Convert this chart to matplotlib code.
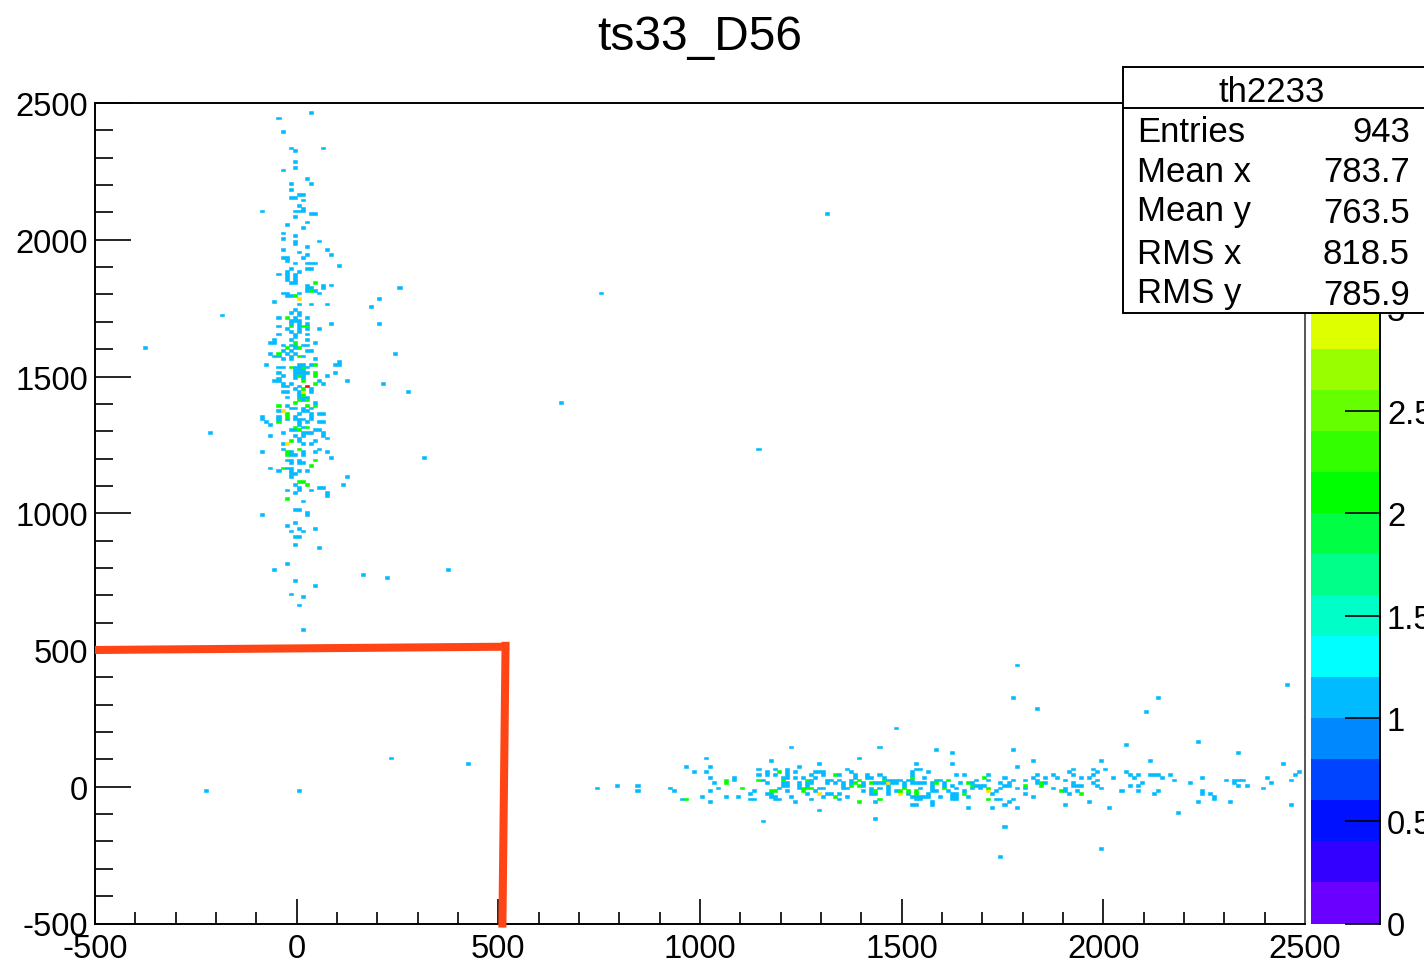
import numpy as np
import matplotlib
matplotlib.use("Agg")
import matplotlib.pyplot as plt
from matplotlib.colors import ListedColormap, BoundaryNorm
from matplotlib.patches import Rectangle
from matplotlib.lines import Line2D

plt.rcParams['font.family'] = ['Liberation Sans', 'DejaVu Sans']
plt.rcParams['axes.unicode_minus'] = False

TITLE = "ts33_D56"
STAT_NAME = "th2233"
STAT_LABELS = ["Entries", "Mean x", "Mean y", "RMS x", "RMS y"]
STAT_VALUES = ["943", "783.7", "763.5", "818.5", "785.9"]

# Lower bin edge (y) -> lower bin edges (x); bins are 10 wide.
upper_single = {
 2460:[30],2440:[-50],2390:[-40],2330:[-20,60],2320:[-10],2280:[-10],2260:[-10],2250:[-40],2220:[20],
 2200:[-20,30],2180:[-20],2160:[0,10],2150:[-20,-10],2140:[10],2120:[0],2110:[10],2100:[-90,-10,0,10],
 2090:[30,40,1310],2080:[-10],2060:[20],2050:[-30],2040:[10],2020:[-40],2010:[-10],2000:[-40],1990:[-10,50],
 1980:[-10],1970:[20],1960:[-40,70],1950:[0],1940:[20,80],1930:[-40,-30,10],1920:[-30],1910:[-10,20,30,40],
 1900:[100],1890:[-20,20,30],1880:[-30,0],1870:[-50,-30,-10],1860:[-30,-10],1850:[-30,-10],1840:[-20,-10],
 1830:[20,60,80],1820:[20,30,60,250],1810:[20,40],1800:[-40,-30,0,50,750],1790:[-30,-20],1780:[200],1770:[-60],
 1760:[0,30,70],1750:[180],1740:[-10],1730:[-20,0],1720:[-190,0],1710:[-50,-10,20],1700:[-20,-10,0],
 1690:[-20,0,20,80,200],1680:[-50,0],1670:[-30,0,20,50],1660:[-20,0],1650:[-50,-10,20],1640:[-10],
 1630:[-60,-20,20],1620:[-70,-60,40],1610:[-40,-20,-10,10,20],1600:[-380,-10],1590:[-40,-20,20,30],
 1580:[-70,-30,-10,240],1570:[-60,-50,-20,10],1560:[-40,-20,40],1550:[100],1540:[-80,0,10,30,90,100],
 1530:[-50,-40,-10,0,20],1520:[-10,0,10],1510:[-50,-10,0,10,20,90],1500:[-40,-10,10,70],1490:[-50,-10,10],
 1480:[-60,-50,50,120],1470:[-40,-20,60,210],1460:[-40,-30,0],1450:[-10,30],1440:[-40,-30,0,30,270],1430:[0],
 1420:[-30,0,10,20],1410:[10],1400:[40,650],1390:[-30],1380:[-20,-10,10,30],1370:[-50,10,20],1360:[0,30,50,60],
 1350:[-90,-50,-10,30],1340:[-90,-50,-30,-10,0,10,30],1330:[-80,0,20,50,60],1320:[-70,0],1310:[10],
 1300:[-20,-10,40,50],1290:[-220,-40,10,20,30,60],1280:[-70,-10,10,60],1270:[0,70],1260:[0,40],1250:[-40,10,30],
 1230:[-40,50,1140],1220:[-90,-20,10,40,70],1210:[-20,-10,10],1200:[80,310],1190:[-30,-20,0],1180:[-20,0,10],
 1160:[-70,-30,-20],1150:[-50,-20,0,20],1140:[-20,-10],1130:[-20,120],1100:[-10,110],1090:[0,50,60],
 1080:[-30,0,30],1070:[-10,70],1060:[70],1040:[10],1010:[-10,0],1000:[20],990:[-90,20],960:[-10],950:[-30],
 940:[0,40],930:[-20,10],910:[-10,0],880:[-10],870:[50],810:[-30],790:[-60,370],770:[160],760:[220],750:[-10],
 730:[40],700:[-20],690:[10],660:[0],570:[10],
}
upper_double = {
 1840:[40],1810:[30],1790:[-10],1710:[-30],1680:[-20,10,20],1620:[-10],1600:[-30,0],1580:[-50],1570:[0],
 1540:[40],1530:[-20,10],1510:[40],1500:[0,40],1480:[10],1470:[40],1450:[10],1430:[10],1410:[0,20],1400:[-10],
 1390:[-50,20,40],1360:[-30],1350:[-30],1330:[-50],1310:[-10,20],1300:[0],1260:[-20],1230:[0],1220:[-30],
 1210:[-30],1190:[40],1170:[30],1160:[-40],1110:[0,10],1100:[20],1050:[-30],
}
upper_triple = {1780:[0],1440:[10],1370:[-40],1250:[-30]}
upper_quad = {1460:[20]}

lower_single = {
 440:[1780],370:[2450],320:[1770,2130],280:[1830],270:[2100],210:[1480],160:[2230],150:[2050],140:[1220,1440],
 130:[1580,1770],120:[1620,2330],100:[230,1010,1390],90:[1170,1820,1990,2110],80:[420,1290,1530,1620,2440],
 70:[960,1020,1240,1780],60:[1140,1180,1210,1360,1530,1540,1920,1970,2000],
 50:[980,1010,1160,1210,1230,1280,1290,1300,1370,1520,1560,1910,1980,2050,2480],
 40:[1140,1160,1180,1210,1270,1300,1340,1380,1410,1440,1520,1630,1650,1710,1830,1870,1920,1970,2060,2080,2110,2120,2130,2160,2470],
 30:[1020,1080,1200,1210,1230,1250,1280,1380,1410,1420,1450,1550,1750,1820,1850,1880,1940,1960,2020,2070,2140,2240,2400],
 20:[1080,1150,1270,1310,1320,1340,1370,1460,1470,1480,1490,1510,1520,1580,1590,1680,1710,1770,1800,1830,1900,1980,2170,2300,2320,2330,2340,2460],
 10:[1030,1160,1200,1210,1240,1260,1270,1310,1330,1350,1370,1400,1430,1440,1450,1470,1480,1500,1520,1530,1540,1550,1570,1600,1640,1670,1740,1760,1830,1850,1920,1970,2090,2210,2320,2410],
 0:[790,840,1200,1210,1240,1260,1350,1400,1460,1500,1570,1600,1620,1680,1690,1700,1750,1760,1920,1930,1940,1980,2060,2080,2330,2350],
 -10:[740,920,1040,1190,1240,1290,1300,1350,1360,1420,1440,1460,1540,1570,1630,1670,1690,1740,1780,1800,1870,1900,1990,2390],
 -20:[-230,0,840,930,1020,1130,1210,1280,1400,1420,1460,1480,1570,1580,1610,1650,1730,1900,1930,2040,2080,2130,2240],
 -30:[1120,1160,1170,1260,1310,1320,1340,1420,1430,1460,1510,1560,1620,1630,1720,1800,1910,2120,2240,2260],
 -40:[1000,1060,1090,1170,1180,1220,1300,1360,1520,1530,1540,1550,1560,1590,1620,1630,1660,1820,2270],
 -50:[950,1120,1130,1180,1190,1270,1340,1530,1540,1620,1630,1730,1740,1770,2270],
 -60:[1020,1230,1430,1570,1760,1960,2230,2310],-70:[1520,1530,1570,1750,1900,2460],-80:[1660,1720,1780,2010],
 -90:[1290],-100:[2180],-120:[1430],-130:[1150],-150:[1750],-230:[1990],-260:[1740],
}
lower_double = {
 50:[1190],40:[1330],30:[1520,1700],20:[1060,1140,1200,1260,1390,1450,1610],10:[1060,1380,1420,1580,1660,1840],
 0:[1370,1390,1670,1800,1840],-10:[1100,1250,1260,1270,1500,1600,1710],-20:[1170,1180,1250,1430,1490,1510,1530,1890],
 -30:[1530,1650,1940],-40:[1330],-50:[960,1440,1710],-60:[1390],
}
lower_triple = {10:[1460],-20:[1710],-30:[1290,1490]}

palette = ["#6A00FF","#3300FF","#0011FF","#0044FF","#0088FF","#00BBFF","#00FFFF","#00FFC8","#00FF88","#00FF44",
           "#00FF00","#33FF00","#66FF00","#99FF00","#DDFF00","#FFE000","#FFC000","#FF9000","#FF5000","#FF0000"]
z_levels = np.arange(21) / 5
x_edges = np.arange(-500, 2501, 10)
y_edges = np.arange(-500, 2501, 10)

H = np.zeros((len(y_edges) - 1, len(x_edges) - 1))
for count, table in [(1, upper_single), (1, lower_single), (2, upper_double), (2, lower_double),
                     (3, upper_triple), (3, lower_triple), (4, upper_quad)]:
    for yv, xs in table.items():
        for xv in xs:
            H[(yv + 500) // 10, (xv + 500) // 10] = count

W, Ht = 1424, 962
def fx(p): return p / W
def fy(p): return 1 - p / Ht

AX_TOP, AX_BOT = 104, 924.5
fig = plt.figure(figsize=(W / 100, Ht / 100), dpi=100, facecolor="white")
ax = fig.add_axes([fx(95), fy(AX_BOT), fx(1305) - fx(95), fy(AX_TOP) - fy(AX_BOT)])
cmap = ListedColormap(palette)
norm = BoundaryNorm(z_levels, cmap.N, clip=True)
mesh = ax.pcolormesh(x_edges, y_edges, np.ma.masked_equal(H, 0), cmap=cmap, norm=norm,
                     antialiased=True, edgecolors='face', linewidth=0.4)
ax.set_xlim(-500, 2500)
ax.set_ylim(-500, 2500)
ax.set_xticks(np.arange(-500, 2501, 500))
ax.set_yticks(np.arange(-500, 2501, 500))
ax.set_xticks(np.arange(-500, 2501, 100), minor=True)
ax.set_yticks(np.arange(-500, 2501, 100), minor=True)
tick_fs = 23.6
ax.tick_params(axis='x', which='major', direction='in', length=18, width=1.2, labelsize=tick_fs, pad=6.5)
ax.tick_params(axis='x', which='minor', direction='in', length=9, width=1.2)
ax.tick_params(axis='y', which='major', direction='in', length=26, width=1.2, labelsize=tick_fs, pad=5)
ax.tick_params(axis='y', which='minor', direction='in', length=13, width=1.2)
for s in ax.spines.values():
    s.set_linewidth(1.4)
ax.spines['right'].set_color("#555555")

# hand-drawn red box on the reference
ax.add_line(Line2D([-500, 515], [500, 512], color="#FF4516", lw=5.8, clip_on=False, zorder=6,
                   solid_capstyle='butt'))
ax.add_line(Line2D([518, 510], [530, -515], color="#FF4516", lw=5.8, clip_on=False, zorder=6,
                   solid_capstyle='butt'))

# palette
cax = fig.add_axes([fx(1311), fy(AX_BOT), fx(1380) - fx(1311), fy(AX_TOP) - fy(AX_BOT)])
cbar = fig.colorbar(mesh, cax=cax, ticks=np.arange(0, 4.01, 0.5), spacing='proportional')
cbar.outline.set_visible(False)
cbar.minorticks_off()
cax.yaxis.set_ticklabels(["0", "0.5", "1", "1.5", "2", "2.5", "3", "3.5", "4"])
cax.tick_params(axis='y', direction='in', length=25.5, width=1.2, labelsize=tick_fs, pad=5, right=True)
cax.axvline(cax.get_xlim()[1], color="black", lw=1.4, clip_on=False)

# title
fig.text(fx(700), fy(38), TITLE, ha='center', va='center', fontsize=34.5)

# stats box
box = Rectangle((fx(1123), fy(314)), fx(1440) - fx(1123), fy(68) - fy(314), transform=fig.transFigure,
                facecolor="white", edgecolor="black", lw=1.4, zorder=10, clip_on=False)
fig.add_artist(box)
fig.add_artist(Line2D([fx(1123), fx(1424)], [fy(109), fy(109)], transform=fig.transFigure,
                      color="black", lw=1.4, zorder=11))
fig.text(fx(1272), fy(92.5), STAT_NAME, ha='center', va='center', fontsize=25, zorder=12)
label_y = [132.5, 172.5, 211.5, 254.5, 293.5]
value_y = [132.5, 172.5, 213.5, 254.5, 295.5]
for name, val, ly, vy in zip(STAT_LABELS, STAT_VALUES, label_y, value_y):
    fig.text(fx(1137), fy(ly), name, ha='left', va='center', fontsize=25, zorder=12)
    fig.text(fx(1410), fy(vy), val, ha='right', va='center', fontsize=25, zorder=12)

fig.savefig("out.png", dpi=100)
